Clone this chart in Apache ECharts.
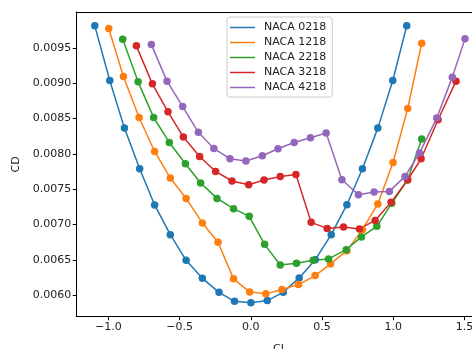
<!DOCTYPE html>
<html>
<head>
<meta charset="utf-8">
<script src="https://cdn.jsdelivr.net/npm/echarts@6/dist/echarts.min.js"></script>
<style>
  html, body { margin: 0; padding: 0; background: #fff; }
  #chart { width: 472px; height: 349px; }
</style>
</head>
<body>
<div id="chart"></div>
<script>
// values
const seriesNames = ['NACA 0218', 'NACA 1218', 'NACA 2218', 'NACA 3218', 'NACA 4218'];
const colors = ['#1f77b4', '#ff7f0e', '#2ca02c', '#d62728', '#9467bd'];

const cl0218 = [-1.095, -0.990, -0.887, -0.780, -0.675, -0.565, -0.454, -0.340, -0.223, -0.114, 0.001,
  0.116, 0.228, 0.340, 0.453, 0.565, 0.675, 0.784, 0.892, 0.997, 1.095];
const cd0218 = [0.00981, 0.009037, 0.008364, 0.00779, 0.007277, 0.006857, 0.006494, 0.00624, 0.006042, 0.005915, 0.005893,
  0.005925, 0.006042, 0.006246, 0.006504, 0.006857, 0.007281, 0.00779, 0.008364, 0.009037, 0.00981];

const cl1218 = [-0.997, -0.894, -0.784, -0.675, -0.565, -0.454, -0.340, -0.230, -0.121, -0.008, 0.106,
  0.219, 0.335, 0.452, 0.560, 0.675, 0.784, 0.892, 0.999, 1.102, 1.200];
const cd1218 = [0.009771, 0.009093, 0.008514, 0.008034, 0.007658, 0.00737, 0.007023, 0.006749, 0.006232, 0.006048, 0.00602,
  0.006081, 0.006151, 0.006278, 0.006444, 0.006631, 0.006928, 0.007291, 0.007879, 0.008641, 0.009565];

const cl2218 = [-0.899, -0.791, -0.682, -0.572, -0.459, -0.352, -0.237, -0.121, -0.011, 0.097,
  0.207, 0.321, 0.438, 0.546, 0.670, 0.777, 0.885, 0.990, 1.100, 1.200];
const cd2218 = [0.009622, 0.009018, 0.008514, 0.008161, 0.00786, 0.007588, 0.00737, 0.007225, 0.007116, 0.00672,
  0.006429, 0.006452, 0.006494, 0.006514, 0.006645, 0.006825, 0.006975, 0.0073, 0.00763, 0.008209];

const cl3218 = [-0.803, -0.691, -0.581, -0.473, -0.359, -0.247, -0.132, -0.015, 0.093, 0.207, 0.317,
  0.424, 0.536, 0.651, 0.763, 0.873, 0.985, 1.102, 1.196, 1.315, 1.441];
const cd3218 = [0.009527, 0.00899, 0.008595, 0.008237, 0.007963, 0.007751, 0.007616, 0.007564, 0.00763, 0.007681, 0.007709,
  0.007031, 0.006946, 0.006966, 0.006938, 0.007059, 0.007314, 0.007634, 0.007931, 0.008482, 0.009028];

const cl4218 = [-0.698, -0.588, -0.478, -0.368, -0.259, -0.146, -0.034, 0.081, 0.191, 0.305, 0.419,
  0.529, 0.640, 0.756, 0.866, 0.973, 1.083, 1.184, 1.306, 1.415, 1.504];
const cd4218 = [0.009545, 0.009028, 0.008669, 0.008305, 0.008075, 0.007931, 0.007898, 0.007973, 0.008072, 0.008161, 0.008227,
  0.008294, 0.007634, 0.007422, 0.00746, 0.007469, 0.007681, 0.008011, 0.008506, 0.009085, 0.009626];

const xTicks = [-1.0, -0.5, 0.0, 0.5, 1.0, 1.5];
const yTicks = [0.0060, 0.0065, 0.0070, 0.0075, 0.0080, 0.0085, 0.0090, 0.0095];

const allCl = [cl0218, cl1218, cl2218, cl3218, cl4218];
const allCd = [cd0218, cd1218, cd2218, cd3218, cd4218];

const chart = echarts.init(document.getElementById('chart'), null, { renderer: 'canvas' });

const font = 'DejaVu Sans';
const series = seriesNames.map((name, i) => ({
  name: name,
  type: 'line',
  data: allCl[i].map((x, k) => [x, allCd[i][k]]),
  symbol: 'circle',
  symbolSize: 7.5,
  itemStyle: { color: colors[i] },
  lineStyle: { color: colors[i], width: 1.5 },
  emphasis: { disabled: true },
  animation: false
}));

// the plot runs a little past the right edge of the picture
const xMin = -1.225, xMax = 1.634;

chart.setOption({
  animation: false,
  grid: { left: 76.3, right: -11.5, top: 12, bottom: 32.3, outerBoundsMode: 'none' },
  legend: {
    orient: 'vertical',
    left: 227,
    top: 17,
    padding: [5, 6, 4, 3],
    itemGap: 4,
    icon: 'rect',
    itemWidth: 25,
    itemHeight: 1.5,
    borderColor: '#cccccc',
    borderWidth: 1,
    borderRadius: 3,
    backgroundColor: 'rgba(255,255,255,0.8)',
    textStyle: { fontFamily: font, fontSize: 11, color: '#222', padding: [0, 0, 0, 4] },
    data: seriesNames
  },
  xAxis: [{
    type: 'value',
    min: xMin,
    max: xMax,
    name: 'CL',
    nameLocation: 'middle',
    nameGap: 27,
    nameTextStyle: { fontFamily: font, fontSize: 11, color: '#222' },
    splitLine: { show: false },
    axisLine: { show: true, onZero: false, lineStyle: { color: '#000', width: 1 } },
    axisTick: { show: true, length: 3.5, customValues: xTicks, lineStyle: { color: '#000' } },
    axisLabel: {
      customValues: xTicks, margin: 5,
      fontFamily: font, fontSize: 11, color: '#222',
      formatter: v => v.toFixed(1).replace('-', '\u2212')
    }
  }, {
    type: 'value',
    position: 'top',
    min: xMin,
    max: xMax,
    splitLine: { show: false },
    axisLine: { show: true, onZero: false, lineStyle: { color: '#000', width: 1 } },
    axisTick: { show: false },
    axisLabel: { show: false }
  }],
  yAxis: {
    type: 'value',
    min: 0.005697,
    max: 0.010006,
    name: 'CD',
    nameLocation: 'middle',
    nameGap: 55,
    nameTextStyle: { fontFamily: font, fontSize: 11, color: '#222' },
    splitLine: { show: false },
    axisLine: { show: true, onZero: false, lineStyle: { color: '#000', width: 1 } },
    axisTick: { show: true, length: 3.5, customValues: yTicks, lineStyle: { color: '#000' } },
    axisLabel: {
      customValues: yTicks, margin: 5,
      fontFamily: font, fontSize: 11, color: '#222',
      formatter: v => v.toFixed(4)
    }
  },
  series: series
});
</script>
</body>
</html>
